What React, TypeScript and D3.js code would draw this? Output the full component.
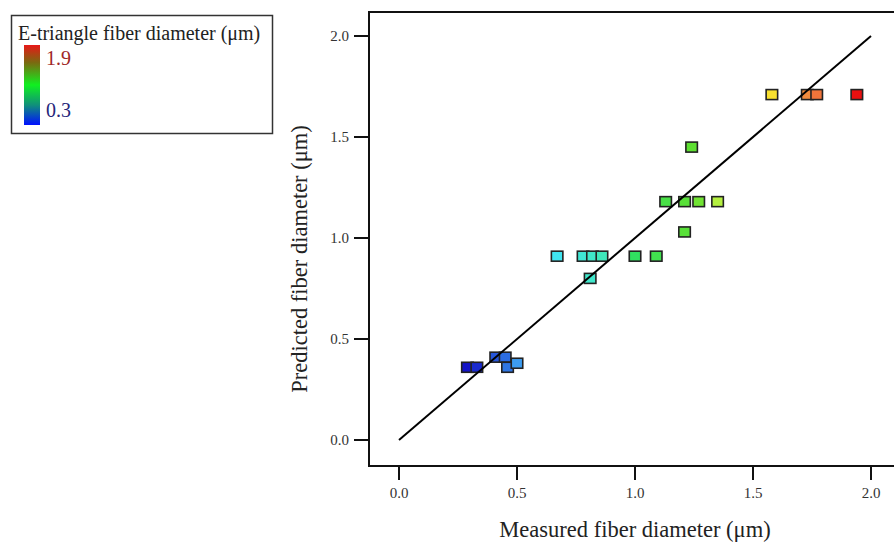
import React from "react";
import * as d3 from "d3";

const measured = [0.29, 0.33, 0.41, 0.45, 0.46, 0.50, 0.67, 0.78, 0.82, 0.86, 0.81, 1.00, 1.09, 1.13, 1.21, 1.27, 1.35, 1.24, 1.21, 1.58, 1.73, 1.77, 1.94];
const predicted = [0.36, 0.36, 0.41, 0.41, 0.36, 0.38, 0.91, 0.91, 0.91, 0.91, 0.80, 0.91, 0.91, 1.18, 1.18, 1.18, 1.18, 1.45, 1.03, 1.71, 1.71, 1.71, 1.71];
const ticks = [0, 0.5, 1.0, 1.5, 2.0];
const colorStops = [0.29, 0.45, 0.5, 0.67, 0.85, 1.0, 1.25, 1.35, 1.58, 1.75, 1.94];
const colorValues = ["#1414c8", "#2c6ce0", "#3c9cf0", "#40e4f0", "#40e8c0", "#30e060", "#60e030", "#b4f040", "#f8e030", "#f08040", "#e81010"];
const legendStops = [
  { o: "0%", c: "#e81818" },
  { o: "22%", c: "#7a6a10" },
  { o: "50%", c: "#10f020" },
  { o: "75%", c: "#10907a" },
  { o: "100%", c: "#0010ff" },
];

const FONT = "'Liberation Serif', 'Times New Roman', serif";

export default function App() {
  const W = 894, H = 543;
  const x = d3.scaleLinear().domain([0, 2]).range([399, 871]);
  const y = d3.scaleLinear().domain([0, 2]).range([440, 36]);
  const color = d3.scaleLinear<string>().domain(colorStops).range(colorValues).interpolate(d3.interpolateRgb).clamp(true);
  const left = 369, top = 12, bottom = 466, right = 910;
  const pts = measured.map((m, i) => ({ m, p: predicted[i] }));
  const mw = 11.5, mh = 10;

  return (
    <svg width={W} height={H} style={{ position: "absolute", left: 0, top: 0, background: "#fff" }}>
      <defs>
        <linearGradient id="lg" x1="0" y1="0" x2="0" y2="1">
          {legendStops.map((s) => (
            <stop key={s.o} offset={s.o} stopColor={s.c} />
          ))}
        </linearGradient>
      </defs>
      <rect x={0} y={0} width={W} height={H} fill="#fff" />
      {/* legend */}
      <rect x={11.5} y={15.5} width={261} height={118} fill="#fff" stroke="#333" strokeWidth={1.5} />
      <text x={18} y={40} fontFamily={FONT} fontSize={20} fill="#222">E-triangle fiber diameter (μm)</text>
      <rect x={24} y={45} width={16} height={80} fill="url(#lg)" />
      <text x={46} y={65} fontFamily={FONT} fontSize={20} fill="#a02828">1.9</text>
      <text x={46} y={117} fontFamily={FONT} fontSize={20} fill="#26267a">0.3</text>

      {/* frame */}
      <path d={`M${right},${top}H${left}V${bottom}H${right}`} fill="none" stroke="#111" strokeWidth={2} />
      {/* y axis ticks */}
      {ticks.map((t) => (
        <g key={"y" + t}>
          <line x1={354} x2={left} y1={y(t)} y2={y(t)} stroke="#111" strokeWidth={2} />
          <text x={349} y={y(t)} dy="0.35em" textAnchor="end" fontFamily={FONT} fontSize={15} fill="#333">{t.toFixed(1)}</text>
        </g>
      ))}
      {/* x axis ticks */}
      {ticks.map((t) => (
        <g key={"x" + t}>
          <line x1={x(t)} x2={x(t)} y1={467} y2={480} stroke="#111" strokeWidth={2} />
          <text x={x(t)} y={493} dy="0.35em" textAnchor="middle" fontFamily={FONT} fontSize={15} fill="#333">{t.toFixed(1)}</text>
        </g>
      ))}
      {/* points */}
      {pts.map((d, i) => (
        <rect key={i} x={x(d.m) - mw / 2} y={y(d.p) - mh / 2} width={mw} height={mh} fill={color(d.m)} stroke="#222" strokeWidth={1.6} />
      ))}
      {/* diagonal */}
      <line x1={x(0)} y1={y(0)} x2={x(2)} y2={y(2)} stroke="#000" strokeWidth={2} />

      {/* axis titles */}
      <text x={635} y={537} textAnchor="middle" fontFamily={FONT} fontSize={22.5} fill="#222">Measured fiber diameter (μm)</text>
      <text transform={`translate(307,259) rotate(-90)`} textAnchor="middle" fontFamily={FONT} fontSize={22.5} fill="#222">Predicted fiber diameter (μm)</text>
    </svg>
  );
}
